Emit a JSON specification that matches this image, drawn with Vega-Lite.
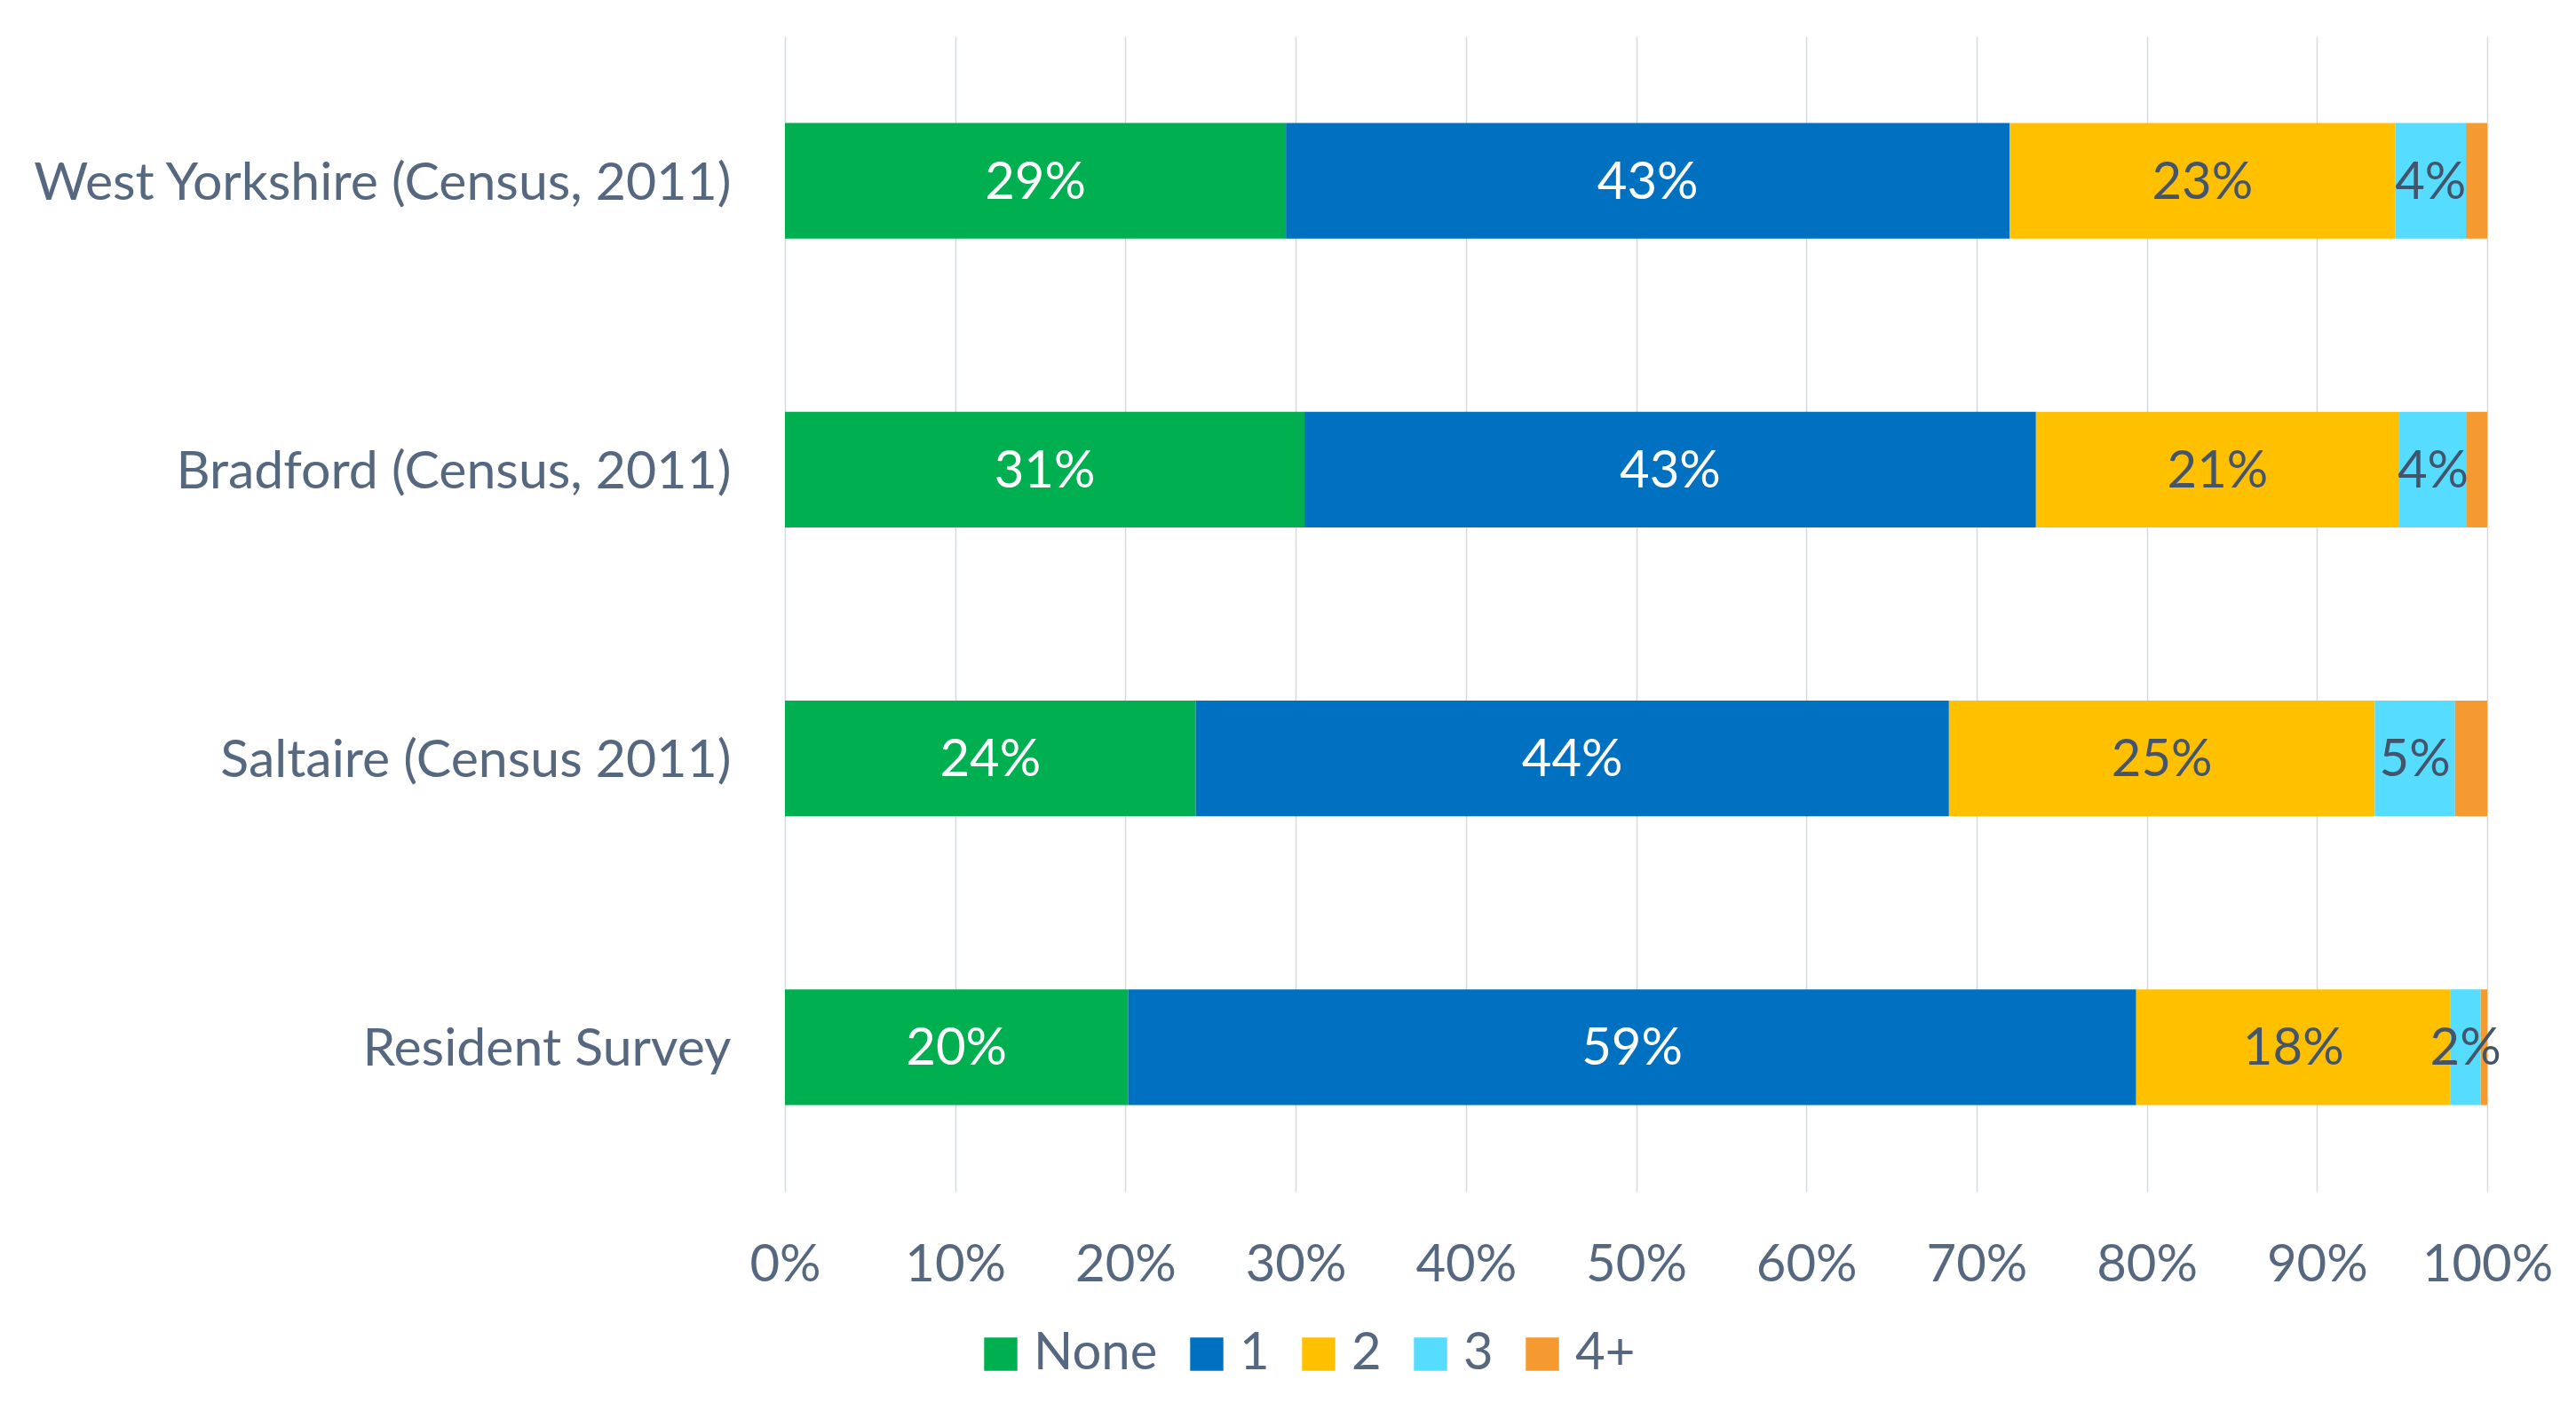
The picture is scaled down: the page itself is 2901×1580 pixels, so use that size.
{
  "$schema": "https://vega.github.io/schema/vega-lite/v6.json",
  "width": 1917,
  "height": 1301,
  "autosize": {"type": "none"},
  "padding": {"left": 884, "top": 41, "right": 100, "bottom": 238},
  "background": "white",
  "config": {
    "font": "Lato",
    "view": {"stroke": null}
  },
  "data": {
    "values": [
      {"area": "West Yorkshire (Census, 2011)", "cars": "None", "k": 1, "share": 0.2943},
      {"area": "West Yorkshire (Census, 2011)", "cars": "1", "k": 2, "share": 0.4251},
      {"area": "West Yorkshire (Census, 2011)", "cars": "2", "k": 3, "share": 0.2266},
      {"area": "West Yorkshire (Census, 2011)", "cars": "3", "k": 4, "share": 0.0415},
      {"area": "West Yorkshire (Census, 2011)", "cars": "4+", "k": 5, "share": 0.0125},
      {"area": "Bradford (Census, 2011)", "cars": "None", "k": 1, "share": 0.3052},
      {"area": "Bradford (Census, 2011)", "cars": "1", "k": 2, "share": 0.4297},
      {"area": "Bradford (Census, 2011)", "cars": "2", "k": 3, "share": 0.2135},
      {"area": "Bradford (Census, 2011)", "cars": "3", "k": 4, "share": 0.0396},
      {"area": "Bradford (Census, 2011)", "cars": "4+", "k": 5, "share": 0.0120},
      {"area": "Saltaire (Census 2011)", "cars": "None", "k": 1, "share": 0.2413},
      {"area": "Saltaire (Census 2011)", "cars": "1", "k": 2, "share": 0.4425},
      {"area": "Saltaire (Census 2011)", "cars": "2", "k": 3, "share": 0.2502},
      {"area": "Saltaire (Census 2011)", "cars": "3", "k": 4, "share": 0.0471},
      {"area": "Saltaire (Census 2011)", "cars": "4+", "k": 5, "share": 0.0189},
      {"area": "Resident Survey", "cars": "None", "k": 1, "share": 0.2016},
      {"area": "Resident Survey", "cars": "1", "k": 2, "share": 0.5922},
      {"area": "Resident Survey", "cars": "2", "k": 3, "share": 0.1847},
      {"area": "Resident Survey", "cars": "3", "k": 4, "share": 0.0176},
      {"area": "Resident Survey", "cars": "4+", "k": 5, "share": 0.0039}
    ]
  },
  "encoding": {
    "y": {
      "field": "area",
      "type": "nominal",
      "sort": ["West Yorkshire (Census, 2011)", "Bradford (Census, 2011)", "Saltaire (Census 2011)", "Resident Survey"],
      "scale": {"paddingInner": 0.6, "paddingOuter": 0.3},
      "axis": {
        "title": null,
        "domain": false,
        "ticks": false,
        "grid": false,
        "labelFontSize": 59,
        "labelColor": "#56687F",
        "labelPadding": 61,
        "labelOffset": 3,
        "labelLimit": 0
      }
    }
  },
  "layer": [
    {
      "mark": {"type": "bar"},
      "encoding": {
        "x": {
          "field": "share",
          "type": "quantitative",
          "stack": "zero",
          "scale": {"domain": [0, 1], "nice": false},
          "axis": {
            "title": null,
            "values": [0, 0.1, 0.2, 0.3, 0.4, 0.5, 0.6, 0.7, 0.8, 0.9, 1],
            "format": ".0%",
            "domain": false,
            "ticks": false,
            "grid": true,
            "gridColor": "#D3D9E1",
            "gridWidth": 1.5,
            "labelFontSize": 58,
            "labelColor": "#56687F",
            "labelPadding": 54,
            "labelFlush": false,
            "labelOverlap": false
          }
        },
        "color": {
          "field": "cars",
          "type": "nominal",
          "scale": {
            "domain": ["None", "1", "2", "3", "4+"],
            "range": ["#00B050", "#0070C0", "#FFC000", "#55DCFF", "#F59A30"]
          },
          "legend": {
            "title": null,
            "orient": "none",
            "direction": "horizontal",
            "legendX": 214,
            "legendY": 1455,
            "padding": 0,
            "symbolType": "square",
            "symbolSize": 1400,
            "symbolStrokeWidth": 0,
            "labelFontSize": 58,
            "labelColor": "#56687F",
            "labelOffset": 8,
            "columnPadding": 26
          }
        },
        "order": {"field": "k", "type": "quantitative"}
      }
    },
    {
      "transform": [{"filter": "datum.k < 5"}],
      "mark": {"type": "text", "fontSize": 58, "baseline": "middle", "align": "center", "dy": 3},
      "encoding": {
        "x": {"field": "share", "type": "quantitative", "stack": "zero", "bandPosition": 0.5},
        "detail": {"field": "cars", "type": "nominal"},
        "order": {"field": "k", "type": "quantitative"},
        "text": {"field": "share", "type": "quantitative", "format": ".0%"},
        "color": {
          "condition": {"test": "datum.k <= 2", "value": "#FFFFFF"},
          "value": "#44546A"
        }
      }
    }
  ]
}
